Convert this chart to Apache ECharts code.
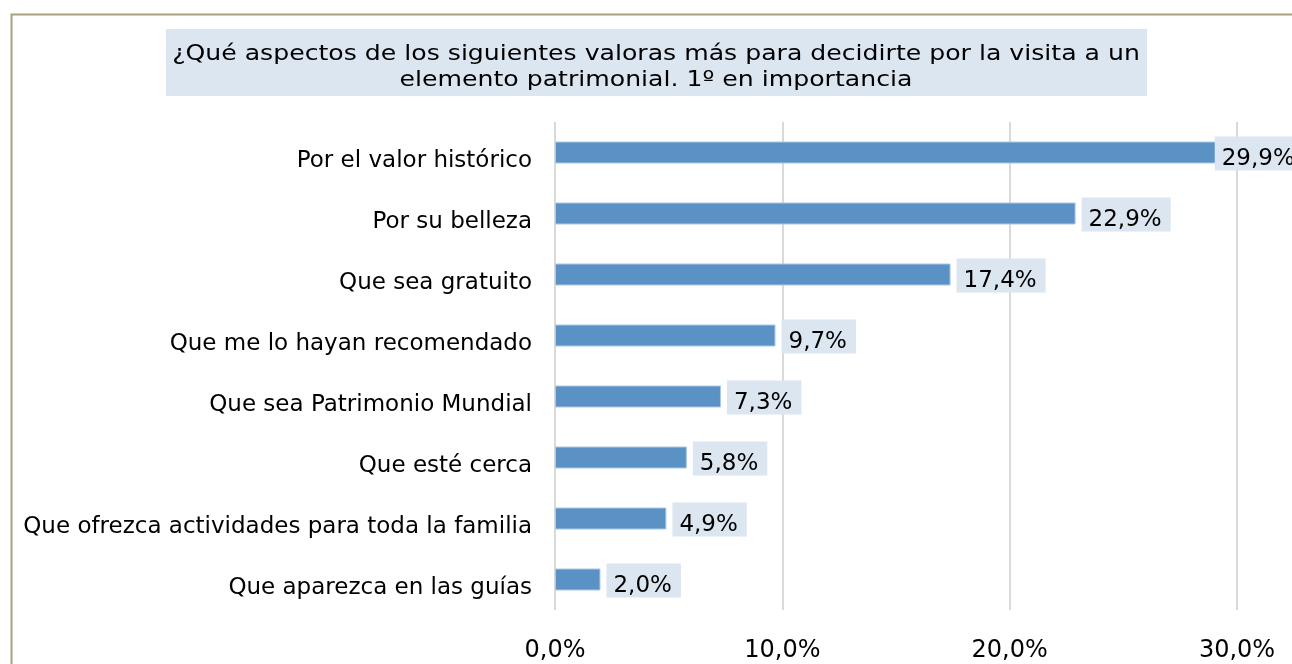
<!DOCTYPE html>
<html>
<head>
<meta charset="utf-8">
<script src="https://cdn.jsdelivr.net/npm/echarts@6/dist/echarts.min.js"></script>
<style>
  html, body { margin: 0; padding: 0; background: #fff; }
  #chart { width: 1292px; height: 664px; }
</style>
</head>
<body>
<div id="chart"></div>
<script>
// categorias (de abajo a arriba, como las pinta el eje)
var categorias = [
  'Que aparezca en las guías',
  'Que ofrezca actividades para toda la familia',
  'Que esté cerca',
  'Que sea Patrimonio Mundial',
  'Que me lo hayan recomendado',
  'Que sea gratuito',
  'Por su belleza',
  'Por el valor histórico'
];
var valores = [2.0, 4.9, 5.8, 7.3, 9.7, 17.4, 22.9, 29.9];
var ticks = [0, 10, 20, 30];

var titulo = '¿Qué aspectos de los siguientes valoras más para decidirte por la visita a un\nelemento patrimonial. 1º en importancia';

var fuente = 'DejaVu Sans';

function pct(v) {
  return v.toFixed(1).replace('.', ',') + '%';
}

var chart = echarts.init(document.getElementById('chart'), null, { renderer: 'canvas' });

// la etiqueta de la barra mas larga se mete dentro del area, como en el original
var datos = valores.map(function (v, i) {
  var item = { value: v };
  if (i === valores.length - 1) {
    item.label = { offset: [-26, -16] };
  }
  return item;
});

var option = {
  backgroundColor: '#fff',
  animation: false,
  // titulo como graphic: en el original la letra sale estirada a lo ancho
  graphic: [
    {
      type: 'rect',
      left: 9,
      top: 12,
      shape: { width: 1400, height: 800 },
      style: { fill: 'none', stroke: '#a8a27f', lineWidth: 2 },
      silent: true
    },
    {
      type: 'rect',
      shape: { x: 166, y: 29, width: 981, height: 67 },
      style: { fill: '#dce6f1' },
      silent: true
    },
    {
      type: 'text',
      x: 656,
      y: 41,
      scaleX: 1.17,
      style: {
        text: titulo,
        fontFamily: fuente,
        fontSize: 21.5,
        lineHeight: 26,
        fill: '#000',
        align: 'center',
        verticalAlign: 'top'
      },
      silent: true
    }
  ],
  grid: {
    left: 555,
    right: 55,
    top: 122,
    bottom: 54,
    containLabel: false
  },
  xAxis: {
    type: 'value',
    min: ticks[0],
    max: ticks[ticks.length - 1],
    interval: 10,
    axisLine: { show: false },
    axisTick: { show: false },
    splitLine: { show: true, lineStyle: { color: '#d9d9d9', width: 2 } },
    axisLabel: {
      formatter: function (v) { return pct(v); },
      fontFamily: fuente,
      fontSize: 24,
      color: '#000',
      margin: 29
    }
  },
  yAxis: {
    type: 'category',
    data: categorias,
    axisLine: { show: false },
    axisTick: { show: false },
    splitLine: { show: false },
    axisLabel: {
      fontFamily: fuente,
      fontSize: 23,
      color: '#000',
      margin: 23,
      verticalAlign: 'top',
      lineHeight: 17
    }
  },
  series: [
    {
      type: 'bar',
      data: datos,
      barWidth: 22,
      itemStyle: {
        color: '#5a92c6',
        borderColor: '#a9c8e6',
        borderWidth: 1
      },
      label: {
        show: true,
        position: 'right',
        distance: 6,
        offset: [0, -16],
        verticalAlign: 'top',
        formatter: function (p) { return pct(p.value); },
        fontFamily: fuente,
        fontSize: 23,
        lineHeight: 23,
        color: '#000',
        backgroundColor: '#dce6f1',
        padding: [11, 9, 0, 7]
      },
      z: 3
    }
  ]
};

chart.setOption(option);
</script>
</body>
</html>
